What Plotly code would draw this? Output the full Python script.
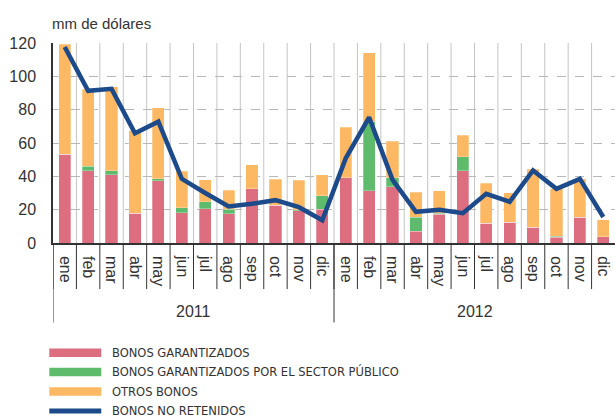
import plotly.graph_objects as go

months = ["ene", "feb", "mar", "abr", "may", "jun", "jul", "ago", "sep", "oct", "nov", "dic"]
years = ["2011", "2012"]
tick_labels = months + months

bonos_garantizados = [53.4, 43.3, 41.0, 17.9, 37.3, 18.3, 20.7, 17.7, 32.5, 22.7, 19.3, 20.3,
                      39.3, 31.3, 33.7, 7.2, 17.3, 43.5, 11.8, 12.4, 9.4, 3.6, 15.4, 3.8]
bonos_sector_publico = [0, 2.7, 2.5, 0, 1.2, 2.8, 4.2, 2.6, 0, 0, 0.6, 8.2,
                        0, 41.5, 5.6, 8.2, 0.6, 8.3, 0, 0, 0, 0.4, 0, 0]
otros_bonos = [65.8, 46.3, 50.4, 49.5, 42.6, 22.0, 13.0, 11.4, 14.5, 15.6, 17.8, 12.4,
               30.3, 41.4, 21.9, 15.1, 13.4, 12.8, 24.1, 17.7, 34.9, 28.7, 23.1, 10.2]
bonos_no_retenidos = [117.6, 91.3, 92.5, 65.8, 72.8, 38.5, 30.0, 21.9, 23.5, 25.7, 21.5, 13.6,
                      50.8, 75.4, 37.9, 18.7, 19.9, 17.9, 29.5, 24.7, 43.5, 32.5, 38.5, 15.6]

series_names = ["BONOS GARANTIZADOS", "BONOS GARANTIZADOS POR EL SECTOR PÚBLICO",
                "OTROS BONOS", "BONOS NO RETENIDOS"]
colors = ["#DC6E7F", "#5DBB6B", "#FDB863", "#1C4A8A"]

W, H = 615, 419
L, T, B, R = 52.7, 42.7, 175.7, 0
PW = W - L - R
PH = H - T - B


def px_x(p):
    return (p - L) / PW


def px_y(p):
    return (H - B - p) / PH


x = list(range(len(tick_labels)))
fig = go.Figure()
for vals, name, col in zip([bonos_garantizados, bonos_sector_publico, otros_bonos],
                           series_names[:3], colors[:3]):
    fig.add_trace(go.Bar(x=x, y=vals, name=name, width=0.52,
                         marker=dict(color=col, line=dict(width=0.8, color="rgba(255,255,255,0.35)")),
                         showlegend=False))
fig.add_trace(go.Scatter(x=x, y=bonos_no_retenidos, mode="lines", name=series_names[3],
                         line=dict(color=colors[3], width=4.5), showlegend=False))

shapes = []
n = len(tick_labels)
# vertical grid lines inside the plot
for i in range(1, n):
    shapes.append(dict(type="line", xref="x", yref="y", x0=i - 0.5, x1=i - 0.5, y0=0, y1=120,
                       line=dict(color="#C4C4C4", width=1), layer="below"))
# month separators below the axis
for i in range(0, n):
    shapes.append(dict(type="line", xref="x", yref="paper", x0=i - 0.5, x1=i - 0.5,
                       y0=0, y1=px_y(289.5), line=dict(color="#333333", width=1)))
# year separators
for i in (0, 12):
    shapes.append(dict(type="line", xref="x", yref="paper", x0=i - 0.5, x1=i - 0.5,
                       y0=0, y1=px_y(323), line=dict(color="#333333", width=1)))

annotations = []
for k, yr in enumerate(years):
    annotations.append(dict(x=k * 12 + 5.5, y=px_y(312), xref="x", yref="paper", text=yr,
                            showarrow=False, xanchor="center", yanchor="middle",
                            font=dict(size=16, color="#333333")))
annotations.append(dict(x=px_x(50), y=px_y(22.7), xref="paper", yref="paper", text="mm de dólares",
                        showarrow=False, xanchor="left", yanchor="middle",
                        font=dict(size=15, color="#333333")))

# legend
rows = [353.3, 372.6, 392.3, 411.7]
thick = [8.5, 8.5, 8.5, 5]
for yy, name, col, th in zip(rows, series_names, colors, thick):
    shapes.append(dict(type="rect", xref="paper", yref="paper", x0=px_x(49), x1=px_x(101),
                       y0=px_y(yy - th / 2), y1=px_y(yy + th / 2),
                       line=dict(width=0), fillcolor=col))
    annotations.append(dict(x=px_x(110), y=px_y(yy), xref="paper", yref="paper", text=name,
                            showarrow=False, xanchor="left", yanchor="middle",
                            font=dict(size=12.8, color="#333333",
                                      family="DejaVu Sans Condensed, Liberation Sans Narrow, Arial")))

fig.update_layout(
    width=W, height=H,
    margin=dict(l=L, r=R, t=T, b=B, pad=0, autoexpand=False),
    barmode="stack",
    plot_bgcolor="white", paper_bgcolor="white",
    font=dict(family="Liberation Sans, Arial, sans-serif", color="#333333", size=16),
    shapes=shapes, annotations=annotations,
    xaxis=dict(range=[-0.5, n - 0.5], tickmode="array", tickvals=x, ticktext=tick_labels,
               tickangle=90, showgrid=False, zeroline=False, showline=True,
               linecolor="#333333", linewidth=1.5, ticks="", tickfont=dict(size=16),
               ticklabelstandoff=8, automargin=False),
    yaxis=dict(range=[0, 120], dtick=20, showgrid=True, gridcolor="#B8B8B8", griddash="dash",
               gridwidth=1, zeroline=False, showline=True, linecolor="#333333", linewidth=1.5,
               ticks="", tickfont=dict(size=16), ticklabelstandoff=12, automargin=False),
)

fig.write_html("out.html", config={"displayModeBar": False},
               post_script="document.body.style.margin='0';document.body.style.overflow='hidden';")
